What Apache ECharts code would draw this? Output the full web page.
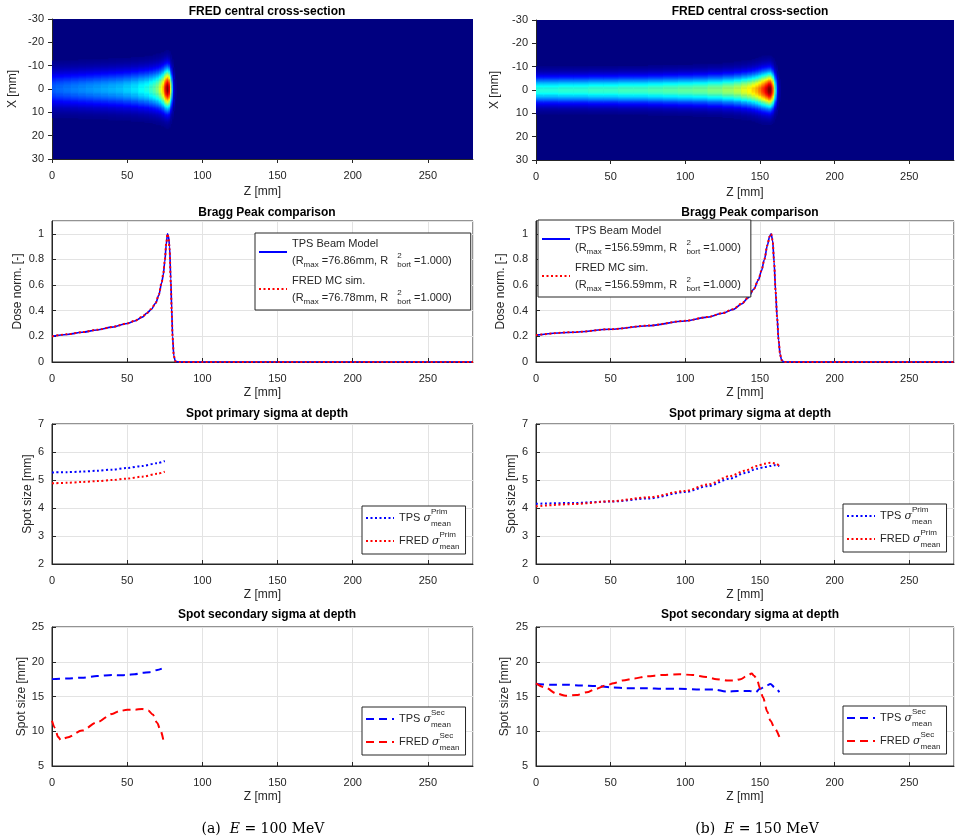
<!DOCTYPE html>
<html>
<head>
<meta charset="utf-8">
<title>FRED vs TPS beam model</title>
<script src="https://cdn.jsdelivr.net/npm/echarts@6/dist/echarts.min.js"></script>
<style>
    html, body { margin: 0; padding: 0; background: #fff; }
    #chart { width: 955px; height: 837px; }
</style>
</head>
<body>
<div id="chart"></div>
<script>
    var FONT = 'Liberation Sans';
    var INK = '#262626';

    // depth samples of the central cross-section (Z in mm), centre intensity and lateral sigma
    var heatZ100 = [0, 5, 10, 15, 20, 25, 30, 35, 40, 45, 50, 55, 60, 63, 66, 68, 70, 72, 73, 74, 75, 76, 77, 78, 79, 80, 81, 82];
    var heatC100 = [0.22, 0.23, 0.24, 0.25, 0.26, 0.27, 0.28, 0.29, 0.30, 0.31, 0.33, 0.35, 0.38, 0.40, 0.43, 0.46, 0.50, 0.57, 0.62, 0.70, 0.82, 0.95, 1.0, 0.9, 0.6, 0.3, 0.1, 0.02];
    var heatS100 = [5.0, 5.0, 5.0, 5.0, 5.05, 5.05, 5.1, 5.1, 5.15, 5.2, 5.2, 5.25, 5.3, 5.35, 5.4, 5.45, 5.5, 5.5, 5.55, 5.6, 5.6, 5.6, 5.6, 5.5, 5.3, 5.0, 4.6, 4.2];

    var heatZ150 = [0, 10, 20, 30, 40, 50, 60, 70, 80, 90, 100, 110, 120, 130, 135, 140, 143, 146, 148, 150, 152, 153, 154, 155, 156, 157, 158, 159, 160, 161, 162, 163];
    var heatC150 = [0.41, 0.41, 0.42, 0.42, 0.43, 0.43, 0.44, 0.44, 0.45, 0.46, 0.47, 0.48, 0.50, 0.53, 0.56, 0.60, 0.63, 0.67, 0.71, 0.76, 0.82, 0.86, 0.90, 0.95, 1.0, 1.0, 0.92, 0.75, 0.5, 0.3, 0.12, 0.03];
    var heatS150 = [3.8, 3.8, 3.8, 3.8, 3.85, 3.85, 3.9, 3.9, 3.95, 4.0, 4.05, 4.1, 4.2, 4.3, 4.4, 4.5, 4.6, 4.7, 4.8, 4.9, 5.0, 5.0, 5.0, 5.0, 5.0, 5.0, 4.9, 4.7, 4.5, 4.2, 3.9, 3.6];

    // Bragg peak (normalised dose)
    var braggZ100 = [0, 10, 20, 30, 40, 50, 55, 60, 63, 66, 69, 71, 73, 74, 75, 76, 76.8, 77.5, 78.2, 79, 79.6, 80.2, 81, 82, 85, 100, 150, 200, 250, 280];
    var tpsBragg100 = [0.200, 0.215, 0.232, 0.250, 0.272, 0.300, 0.320, 0.350, 0.380, 0.410, 0.460, 0.520, 0.620, 0.680, 0.780, 0.920, 1.0, 0.98, 0.90, 0.65, 0.42, 0.20, 0.05, 0.005, 0, 0, 0, 0, 0, 0];
    var fredBragg100 = [0.200, 0.216, 0.233, 0.251, 0.273, 0.301, 0.321, 0.352, 0.382, 0.413, 0.463, 0.525, 0.625, 0.690, 0.790, 0.930, 1.0, 0.97, 0.88, 0.62, 0.40, 0.19, 0.05, 0.005, 0, 0, 0, 0, 0, 0];

    var braggZ150 = [0, 25, 50, 75, 100, 115, 125, 132, 138, 142, 146, 149, 151, 153, 155, 156.5, 157.5, 158.5, 159.5, 160.5, 161.5, 162.5, 163.5, 164.5, 166, 170, 200, 250, 280];
    var tpsBragg150 = [0.21, 0.232, 0.255, 0.283, 0.32, 0.35, 0.38, 0.41, 0.455, 0.50, 0.57, 0.64, 0.71, 0.80, 0.91, 0.98, 1.0, 0.95, 0.78, 0.55, 0.35, 0.17, 0.06, 0.015, 0, 0, 0, 0, 0];
    var fredBragg150 = [0.21, 0.233, 0.256, 0.284, 0.321, 0.351, 0.381, 0.412, 0.457, 0.502, 0.572, 0.642, 0.712, 0.802, 0.912, 0.98, 1.0, 0.95, 0.78, 0.55, 0.35, 0.17, 0.06, 0.015, 0, 0, 0, 0, 0];

    // primary spot sigma [mm]
    var primZ100 = [0, 10, 20, 30, 40, 50, 60, 70, 75];
    var tpsPrim100 = [5.27, 5.28, 5.30, 5.33, 5.37, 5.43, 5.50, 5.60, 5.68];
    var fredPrim100 = [4.88, 4.90, 4.93, 4.96, 5.00, 5.05, 5.12, 5.22, 5.30];

    var primZ150 = [0, 25, 50, 75, 100, 115, 130, 140, 148, 153, 157, 160, 163];
    var tpsPrim150 = [4.15, 4.18, 4.23, 4.34, 4.57, 4.78, 5.05, 5.25, 5.40, 5.46, 5.50, 5.53, 5.50];
    var fredPrim150 = [4.06, 4.14, 4.24, 4.38, 4.61, 4.84, 5.14, 5.33, 5.50, 5.58, 5.62, 5.60, 5.50];

    // secondary spot sigma [mm]
    var tpsSecZ100 = [0, 10, 20, 30, 40, 45, 50, 55, 60, 65, 70, 73];
    var tpsSec100 = [17.5, 17.6, 17.7, 17.95, 18.1, 18.05, 18.1, 18.2, 18.4, 18.5, 18.8, 19.0];
    var fredSecZ100 = [0, 2, 4, 6, 10, 20, 30, 40, 45, 50, 55, 60, 64, 67, 70, 72, 74];
    var fredSec100 = [11.5, 10.5, 9.2, 8.7, 9.1, 10.1, 11.3, 12.5, 12.9, 13.1, 13.1, 13.2, 13.0, 12.4, 11.2, 10.2, 8.8];

    var tpsSecZ150 = [0, 10, 20, 30, 40, 52, 60, 74, 85, 96, 110, 119, 128, 135, 143, 147, 150, 154, 157, 160, 163];
    var tpsSec150 = [16.8, 16.7, 16.7, 16.6, 16.5, 16.3, 16.2, 16.2, 16.1, 16.1, 16.0, 16.0, 15.7, 15.8, 15.8, 15.6, 16.1, 16.5, 16.8, 16.3, 15.6];
    var fredSecZ150 = [0, 6, 14, 20, 27, 34, 40, 47, 52, 58, 66, 74, 85, 96, 105, 114, 121, 128, 133, 137, 141, 144.5, 146, 148, 150, 152, 155, 157, 160, 163];
    var fredSec150 = [16.9, 16.3, 15.4, 15.1, 15.2, 15.6, 16.1, 16.6, 16.9, 17.3, 17.6, 17.9, 18.1, 18.2, 18.1, 17.8, 17.5, 17.3, 17.3, 17.5, 17.9, 18.3, 18.0, 17.5, 16.2, 14.9, 12.8, 11.5, 10.4, 9.2];

    var jet = ['#000080', '#0000ff', '#0080ff', '#00ffff', '#80ff80', '#ffff00', '#ff8000', '#ff0000', '#800000'];

    function pairs(xs, ys) {
        return xs.map(function (x, i) { return [x, ys[i]]; });
    }

    // one column of cells per depth sample, lateral gaussian with the read sigma
    function heatCells(zs, centre, sigma) {
        var out = [];
        for (var i = 0; i < zs.length; i++) {
            var a = i === 0 ? zs[0] : (zs[i - 1] + zs[i]) / 2;
            var b = i === zs.length - 1 ? zs[i] + (zs[i] - zs[i - 1]) / 2 : (zs[i] + zs[i + 1]) / 2;
            for (var k = -36; k <= 36; k++) {
                var x = k * 0.5;
                var v = centre[i] * Math.exp(-x * x / (2 * sigma[i] * sigma[i]));
                if (v > 0.012) out.push([zs[i], x, v, a, b]);
            }
        }
        return out;
    }

    function renderCell(params, api) {
        var p0 = api.coord([api.value(3), api.value(1) - 0.25]);
        var p1 = api.coord([api.value(4), api.value(1) + 0.25]);
        return {
            type: 'rect',
            shape: {
                x: p0[0], y: Math.min(p0[1], p1[1]),
                width: p1[0] - p0[0] + 0.6, height: Math.abs(p1[1] - p0[1]) + 0.6
            },
            style: { fill: api.visual('color') }
        };
    }

    var cols = [{ left: 52, width: 421, mid: 262 }, { left: 536, width: 418, mid: 745 }];
    var rows = [
        { top: [19, 20], h: 140, title: 'FRED central cross-section', tTop: 1, xGap: 27 },
        { top: [221, 221], h: 141, title: 'Bragg Peak comparison', tTop: 202, xGap: 25 },
        { top: [424, 424], h: 140, title: 'Spot primary sigma at depth', tTop: 403, xGap: 25 },
        { top: [627, 627], h: 139, title: 'Spot secondary sigma at depth', tTop: 604, xGap: 25 }
    ];
    var yNameGap = [[33, 35], [28, 29], [18, 18], [24, 25]];
    var yCfg = [
        { min: -30, max: 30, interval: 10, name: 'X [mm]', inverse: true },
        { min: 0, max: 1.1, interval: 0.2, name: 'Dose norm. [-]' },
        { min: 2, max: 7, interval: 1, name: 'Spot size [mm]' },
        { min: 5, max: 25, interval: 5, name: 'Spot size [mm]' }
    ];

    var grids = [], xAxes = [], yAxes = [], titles = [];
    rows.forEach(function (r, ri) {
        cols.forEach(function (c, ci) {
            var heat = ri === 0;
            grids.push({
                left: c.left, width: c.width, top: r.top[ci], height: r.h,
                show: true,
                backgroundColor: heat ? '#000080' : '#fff',
                borderColor: INK, borderWidth: heat ? 0 : 1
            });
            var tick = { show: true, inside: !heat, length: 4, lineStyle: { color: INK } };
            xAxes.push({
                gridIndex: grids.length - 1, type: 'value', min: 0, max: 280, interval: 50,
                name: 'Z [mm]', nameLocation: 'middle', nameGap: r.xGap,
                nameTextStyle: { fontFamily: FONT, fontSize: 12, color: INK },
                axisLine: { show: true, onZero: false, lineStyle: { color: INK } },
                axisTick: tick,
                axisLabel: { fontFamily: FONT, fontSize: 11, color: INK, margin: 11, showMaxLabel: false },
                splitLine: { show: !heat, lineStyle: { color: '#e3e3e3' } }
            });
            var y = yCfg[ri];
            yAxes.push({
                gridIndex: grids.length - 1, type: 'value', min: y.min, max: y.max, interval: y.interval,
                inverse: !!y.inverse,
                name: y.name, nameLocation: 'middle', nameGap: yNameGap[ri][ci],
                nameTextStyle: { fontFamily: FONT, fontSize: 12, color: INK },
                axisLine: { show: true, onZero: false, lineStyle: { color: INK } },
                axisTick: tick,
                axisLabel: { fontFamily: FONT, fontSize: 11, color: INK, margin: 8, showMaxLabel: ri !== 1 },
                splitLine: { show: !heat, lineStyle: { color: '#e3e3e3' } }
            });
            titles.push({
                text: r.title, left: c.mid, top: r.tTop, textAlign: 'center',
                textStyle: { fontFamily: FONT, fontSize: 12, fontWeight: 'bold', color: '#000' }
            });
        });
    });

    var capStyle = {
        fontFamily: 'DejaVu Serif', fontSize: 14, fontWeight: 'normal', color: '#000',
        rich: { i: { fontFamily: 'DejaVu Serif', fontSize: 14, fontStyle: 'italic' } }
    };
    titles.push({ text: '(a)  {i|E} = 100 MeV', left: 258, top: 817, textAlign: 'center', textStyle: capStyle });
    titles.push({ text: '(b)  {i|E} = 150 MeV', left: 752, top: 817, textAlign: 'center', textStyle: capStyle });

    var rich = {
        sub: { fontFamily: FONT, fontSize: 8, color: INK, verticalAlign: 'bottom' },
        sup: { fontFamily: FONT, fontSize: 8, color: INK, verticalAlign: 'top', width: 0, align: 'left' },
        sig: { fontFamily: 'DejaVu Serif', fontSize: 11, fontStyle: 'italic', color: INK }
    };

    function legendBox(names, texts, left, top, lineHeight, padding, gap) {
        return {
            data: names, orient: 'vertical', left: left, top: top,
            itemWidth: 28, itemHeight: 12, itemGap: gap,
            itemStyle: { opacity: 0 },
            lineStyle: { width: 2 },
            backgroundColor: '#fff', borderColor: INK, borderWidth: 1, borderRadius: 0,
            padding: padding, selectedMode: false,
            formatter: function (n) { return texts[names.indexOf(n)]; },
            textStyle: { fontFamily: FONT, fontSize: 11, color: INK, lineHeight: lineHeight, rich: rich }
        };
    }

    var legends = [
        legendBox(['TPS Beam Model', 'FRED MC sim.'], [
            'TPS Beam Model\n(R{sub|max} =76.86mm, R   {sup|2}{sub|bort} =1.000)',
            'FRED MC sim.\n(R{sub|max} =76.78mm, R   {sup|2}{sub|bort} =1.000)'
        ], 255, 233, 17, [2, 19, 4, 3], 3),
        legendBox(['TPS Beam Model', 'FRED MC sim.'], [
            'TPS Beam Model\n(R{sub|max} =156.59mm, R   {sup|2}{sub|bort} =1.000)',
            'FRED MC sim.\n(R{sub|max} =156.59mm, R   {sup|2}{sub|bort} =1.000)'
        ], 538, 220, 17, [2, 10, 4, 3], 3),
        legendBox(['TPS prim', 'FRED prim'], [
            'TPS {sig|σ}{sup|Prim}{sub|mean}', 'FRED {sig|σ}{sup|Prim}{sub|mean}'
        ], 362, 506, 20, [2, 6, 3, 3], 3),
        legendBox(['TPS prim', 'FRED prim'], [
            'TPS {sig|σ}{sup|Prim}{sub|mean}', 'FRED {sig|σ}{sup|Prim}{sub|mean}'
        ], 843, 504, 20, [2, 6, 3, 3], 3),
        legendBox(['TPS sec', 'FRED sec'], [
            'TPS {sig|σ}{sup|Sec}{sub|mean}', 'FRED {sig|σ}{sup|Sec}{sub|mean}'
        ], 362, 707, 20, [2, 6, 3, 3], 3),
        legendBox(['TPS sec', 'FRED sec'], [
            'TPS {sig|σ}{sup|Sec}{sub|mean}', 'FRED {sig|σ}{sup|Sec}{sub|mean}'
        ], 843, 706, 20, [2, 6, 3, 3], 3)
    ];

    function line(name, idx, data, color, type, width) {
        return {
            name: name, type: 'line', xAxisIndex: idx, yAxisIndex: idx, data: data,
            symbol: 'none', showSymbol: false, smooth: 0.3, smoothMonotone: 'x',
            lineStyle: { color: color, type: type, width: width }, itemStyle: { color: color },
            clip: true, animation: false
        };
    }

    var DOT = [2, 2.5], DASH = [8, 5];
    var series = [
        { type: 'custom', name: 'map100', xAxisIndex: 0, yAxisIndex: 0, renderItem: renderCell, clip: true,
            encode: { x: 0, y: 1 }, data: heatCells(heatZ100, heatC100, heatS100), animation: false },
        { type: 'custom', name: 'map150', xAxisIndex: 1, yAxisIndex: 1, renderItem: renderCell, clip: true,
            encode: { x: 0, y: 1 }, data: heatCells(heatZ150, heatC150, heatS150), animation: false },
        line('TPS Beam Model', 2, pairs(braggZ100, tpsBragg100), '#0000ff', 'solid', 1.6),
        line('FRED MC sim.', 2, pairs(braggZ100, fredBragg100), '#ff0000', DOT, 2),
        line('TPS Beam Model', 3, pairs(braggZ150, tpsBragg150), '#0000ff', 'solid', 1.6),
        line('FRED MC sim.', 3, pairs(braggZ150, fredBragg150), '#ff0000', DOT, 2),
        line('TPS prim', 4, pairs(primZ100, tpsPrim100), '#0000ff', DOT, 2),
        line('FRED prim', 4, pairs(primZ100, fredPrim100), '#ff0000', DOT, 2),
        line('TPS prim', 5, pairs(primZ150, tpsPrim150), '#0000ff', DOT, 2),
        line('FRED prim', 5, pairs(primZ150, fredPrim150), '#ff0000', DOT, 2),
        line('TPS sec', 6, pairs(tpsSecZ100, tpsSec100), '#0000ff', DASH, 2),
        line('FRED sec', 6, pairs(fredSecZ100, fredSec100), '#ff0000', DASH, 2),
        line('TPS sec', 7, pairs(tpsSecZ150, tpsSec150), '#0000ff', DASH, 2),
        line('FRED sec', 7, pairs(fredSecZ150, fredSec150), '#ff0000', DASH, 2)
    ];

    var myChart = echarts.init(document.getElementById('chart'), null, { renderer: 'canvas' });
    myChart.setOption({
        animation: false,
        backgroundColor: '#fff',
        title: titles,
        grid: grids,
        xAxis: xAxes,
        yAxis: yAxes,
        legend: legends,
        visualMap: {
            show: false, type: 'continuous', seriesIndex: [0, 1], dimension: 2,
            min: 0, max: 1, inRange: { color: jet }
        },
        series: series
    });
</script>
</body>
</html>
